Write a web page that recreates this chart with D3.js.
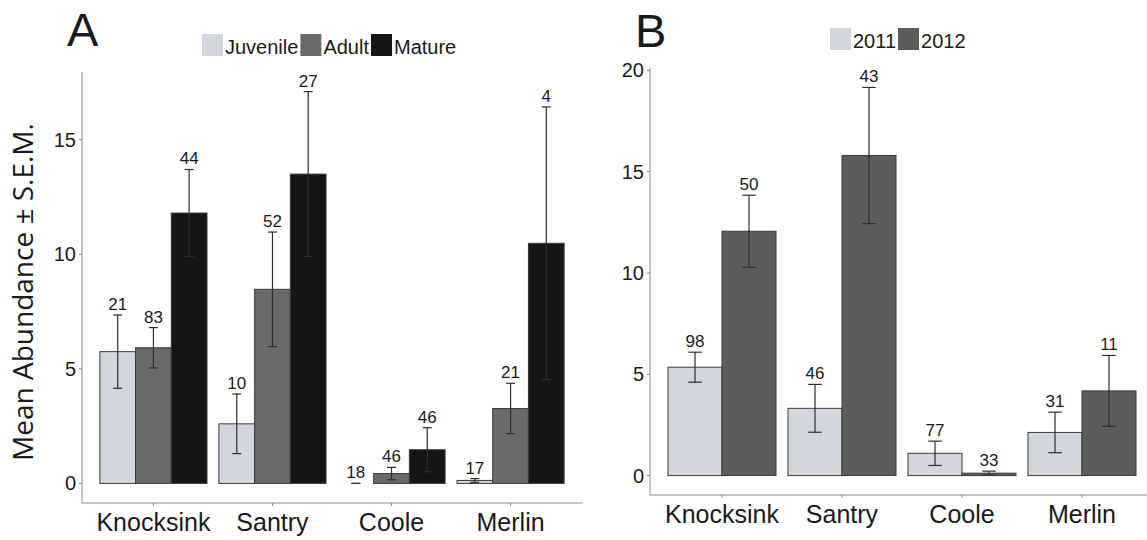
<html>
  <head>
    <script src="https://d3js.org/d3.v7.min.js"></script>
    <style>
      body { margin: 0; background: #ffffff; }
      text { font-family: "Liberation Sans", Arial, sans-serif; fill: #1a1a1a; }
    </style>
  </head>
  <body>
    <div id="vis"></div>
  </body>
  <script>
    // Categories
    var sites = ["Knocksink", "Santry", "Coole", "Merlin"];

    // Panel A: life stages
    var stages = ["Juvenile", "Adult", "Mature"];
    var meanJuvenile = [5.75, 2.6, 0, 0.13];
    var seJuvenile = [1.6, 1.3, 0, 0.08];
    var nJuvenile = [21, 10, 18, 17];
    var meanAdult = [5.92, 8.47, 0.43, 3.27];
    var seAdult = [0.88, 2.5, 0.27, 1.1];
    var nAdult = [83, 52, 46, 21];
    var meanMature = [11.8, 13.5, 1.47, 10.48];
    var seMature = [1.9, 3.6, 0.96, 5.95];
    var nMature = [44, 27, 46, 4];

    // Panel B: years
    var years = ["2011", "2012"];
    var mean2011 = [5.35, 3.32, 1.1, 2.13];
    var se2011 = [0.74, 1.18, 0.6, 1.0];
    var n2011 = [98, 46, 77, 31];
    var mean2012 = [12.06, 15.8, 0.12, 4.18];
    var se2012 = [1.78, 3.36, 0.1, 1.75];
    var n2012 = [50, 43, 33, 11];

    var ticksA = [0, 5, 10, 15];
    var ticksB = [0, 5, 10, 15, 20];

    var svg = d3
      .select("#vis")
      .append("svg")
      .attr("width", 1147)
      .attr("height", 540);

    // build rows for a panel
    function rows(groups, means, ses, ns) {
      var out = [];
      sites.forEach(function (s, i) {
        groups.forEach(function (g, j) {
          out.push({ site: s, group: g, mean: means[j][i], se: ses[j][i], n: ns[j][i] });
        });
      });
      return out;
    }

    function drawPanel(p) {
      var data = rows(p.groups, p.means, p.ses, p.ns);
      var top = d3.max(data, function (d) { return d.mean + d.se; });
      var pad = top * 0.05;

      var y = d3.scaleLinear().domain([-pad, top + pad]).range([p.bottom, p.top]);
      var x = d3.scalePoint().domain(sites).range([p.left, p.right]).padding(0.6);
      var inner = d3
        .scaleBand()
        .domain(p.groups)
        .range([-x.step() * 0.45, x.step() * 0.45]);

      var g = svg.append("g");

      // axes
      g.append("line")
        .attr("x1", p.left).attr("x2", p.left)
        .attr("y1", p.top).attr("y2", p.bottom)
        .style("stroke", "#8a8a8a").style("stroke-width", 1);
      g.append("line")
        .attr("x1", p.left).attr("x2", p.right)
        .attr("y1", p.bottom).attr("y2", p.bottom)
        .style("stroke", "#8a8a8a").style("stroke-width", 1);

      p.ticks.forEach(function (t) {
        g.append("line")
          .attr("x1", p.left - 3).attr("x2", p.left)
          .attr("y1", y(t)).attr("y2", y(t))
          .style("stroke", "#8a8a8a");
        g.append("text")
          .attr("x", p.left - 6)
          .attr("y", y(t) + 7)
          .attr("text-anchor", "end")
          .style("font-size", "20px")
          .text(t);
      });

      sites.forEach(function (s) {
        g.append("line")
          .attr("x1", x(s)).attr("x2", x(s))
          .attr("y1", p.bottom).attr("y2", p.bottom + 3)
          .style("stroke", "#8a8a8a");
        g.append("text")
          .attr("x", x(s))
          .attr("y", p.bottom + 28)
          .attr("text-anchor", "middle")
          .style("font-size", "25px")
          .text(s);
      });

      // bars
      g.selectAll("rect.bar")
        .data(data)
        .enter()
        .append("rect")
        .attr("class", "bar")
        .attr("x", function (d) { return x(d.site) + inner(d.group); })
        .attr("y", function (d) { return y(d.mean); })
        .attr("width", inner.bandwidth())
        .attr("height", function (d) { return Math.max(0, y(0) - y(d.mean)); })
        .style("fill", function (d) { return p.colors[p.groups.indexOf(d.group)]; })
        .style("stroke", "#3a3a3a")
        .style("stroke-width", 1);

      // error bars
      var cap = inner.bandwidth() * 0.125;
      data.forEach(function (d) {
        var cx = x(d.site) + inner(d.group) + inner.bandwidth() / 2;
        var y1 = y(d.mean + d.se);
        var y0 = y(d.mean - d.se);
        var eb = g.append("g").style("stroke", "#2e2e2e").style("stroke-width", 1.2);
        eb.append("line").attr("x1", cx).attr("x2", cx).attr("y1", y1).attr("y2", y0);
        eb.append("line").attr("x1", cx - cap).attr("x2", cx + cap).attr("y1", y1).attr("y2", y1);
        eb.append("line").attr("x1", cx - cap).attr("x2", cx + cap).attr("y1", y0).attr("y2", y0);
        g.append("text")
          .attr("x", cx)
          .attr("y", y1 - 5)
          .attr("text-anchor", "middle")
          .style("font-size", "17px")
          .text(d.n);
      });

      // legend
      var lx = p.legendX;
      p.groups.forEach(function (grp, j) {
        g.append("rect")
          .attr("x", lx).attr("y", p.legendY)
          .attr("width", 21).attr("height", 22)
          .style("fill", p.colors[j]);
        var t = g.append("text")
          .attr("x", lx + 23)
          .attr("y", p.legendY + 20)
          .style("font-size", "20px")
          .text(grp);
        lx += 23 + t.node().getComputedTextLength() + 2;
      });

      // panel letter
      g.append("text")
        .attr("x", p.letterX)
        .attr("y", p.letterY)
        .style("font-size", "47px")
        .text(p.letter);
    }

    drawPanel({
      groups: stages,
      means: [meanJuvenile, meanAdult, meanMature],
      ses: [seJuvenile, seAdult, seMature],
      ns: [nJuvenile, nAdult, nMature],
      colors: ["#d3d6da", "#6a6a6a", "#151515"],
      ticks: ticksA,
      left: 82, right: 582, top: 72, bottom: 503,
      legendX: 202, legendY: 34,
      letter: "A", letterX: 67, letterY: 46
    });

    drawPanel({
      groups: years,
      means: [mean2011, mean2012],
      ses: [se2011, se2012],
      ns: [n2011, n2012],
      colors: ["#d3d6da", "#5c5c5c"],
      ticks: ticksB,
      left: 650, right: 1154, top: 68, bottom: 495,
      legendX: 830, legendY: 28,
      letter: "B", letterX: 635, letterY: 47
    });

    // y axis title
    svg.append("text")
      .attr("transform", "translate(33,292) rotate(-90)")
      .attr("text-anchor", "middle")
      .style("font-family", "'Open Sans', sans-serif")
      .style("font-size", "28px")
      .text("Mean Abundance \u00b1 S.E.M.");
  </script>
</html>
